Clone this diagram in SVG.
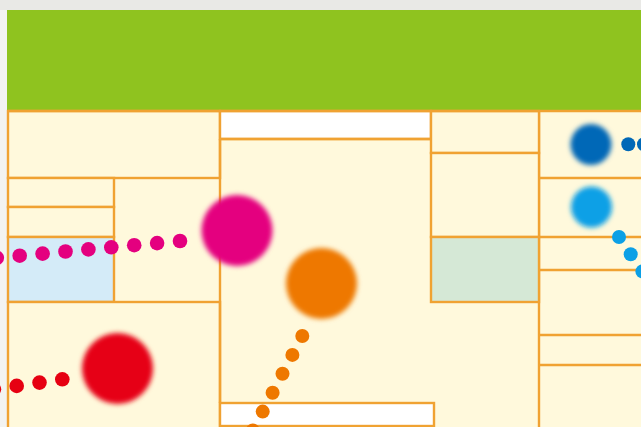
<svg xmlns="http://www.w3.org/2000/svg" width="641" height="427" viewBox="0 0 641 427">
<defs>
<filter id="blur" x="-30%" y="-30%" width="160%" height="160%"><feGaussianBlur stdDeviation="2.4"/></filter>
<style>
.room{fill:#fff9dc;stroke:#f0a232;stroke-width:2.4}
.white{fill:#ffffff;stroke:#f0a232;stroke-width:2.4}
.wall{stroke:#f0a232;stroke-width:2.4;fill:none}
.mag{fill:#e4007f}.red{fill:#e60012}.org{fill:#ee7800}.dblue{fill:#0068b7}.lblue{fill:#0ca0e6}
</style>
</defs>
<rect x="0" y="0" width="641" height="427" fill="#f3f3f1"/>
<rect x="0" y="0" width="641" height="10" fill="#e9e9e6"/>
<g id="header"><rect x="7" y="10" width="634" height="100" fill="#8fc31f"/></g>
<g id="plan">
<rect x="8" y="111" width="640" height="320" fill="#fff9dc"/>
<g id="room-topleft"><rect class="room" x="8" y="111" width="212" height="67"/></g>
<g id="room-small1"><rect class="room" x="8" y="178" width="106" height="29"/></g>
<g id="room-small2"><rect class="room" x="8" y="207" width="106" height="30"/></g>
<g id="room-blue"><rect x="8" y="237" width="106" height="65" fill="#d4ebf8" stroke="#f0a232" stroke-width="2.4"/></g>
<g id="room-bottomleft"><rect class="room" x="8" y="302" width="212" height="130"/></g>
<g id="corridor-top"><rect class="white" x="220" y="111" width="211" height="28"/></g>
<g id="room-central"><path class="wall" d="M220 139 H431 M220 139 V403 M539 111 V431"/></g>
<g id="corridor-bottom"><rect class="white" x="220" y="403" width="214" height="23"/></g>
<g id="col-top"><rect class="room" x="431" y="111" width="108" height="42"/></g>
<g id="col-mid"><rect class="room" x="431" y="153" width="108" height="84"/></g>
<g id="col-green"><rect x="431" y="237" width="108" height="65" fill="#d5e8d6" stroke="#f0a232" stroke-width="2.4"/></g>
<g id="right-rooms"><path class="wall" d="M539 178 H641 M539 237 H641 M539 270 H641 M539 335 H641 M539 365 H641 M8 111 H641"/></g>
</g>
<g id="connectors">
<g class="mag">
<circle cx="180" cy="241" r="7.3"/><circle cx="157.1" cy="243.1" r="7.3"/><circle cx="134.2" cy="245.2" r="7.3"/><circle cx="111.3" cy="247.3" r="7.3"/><circle cx="88.4" cy="249.4" r="7.3"/><circle cx="65.5" cy="251.5" r="7.3"/><circle cx="42.6" cy="253.6" r="7.3"/><circle cx="19.7" cy="255.7" r="7.3"/><circle cx="-3.2" cy="257.8" r="7.3"/>
</g>
<g class="red">
<circle cx="62.3" cy="379.3" r="7.3"/><circle cx="39.5" cy="382.6" r="7.3"/><circle cx="16.7" cy="385.9" r="7.3"/><circle cx="-6.1" cy="389.2" r="7.3"/>
</g>
<g class="org">
<circle cx="302.3" cy="336" r="7"/><circle cx="292.4" cy="354.9" r="7"/><circle cx="282.5" cy="373.8" r="7"/><circle cx="272.6" cy="392.7" r="7"/><circle cx="262.7" cy="411.6" r="7"/><circle cx="252.8" cy="430.5" r="7"/>
</g>
<g class="dblue"><circle cx="628.3" cy="144.3" r="7"/><circle cx="644" cy="144.3" r="7"/></g>
<g class="lblue"><circle cx="619" cy="237" r="7"/><circle cx="630.7" cy="254.2" r="7"/><circle cx="642.4" cy="271.4" r="7"/></g>
</g>
<g id="node-magenta"><circle class="mag" cx="237" cy="230.5" r="35.5" filter="url(#blur)"/></g>
<g id="node-orange"><circle class="org" cx="321.5" cy="283.5" r="35.5" filter="url(#blur)"/></g>
<g id="node-red"><circle class="red" cx="117.5" cy="368.5" r="35.5" filter="url(#blur)"/></g>
<g id="node-darkblue"><circle class="dblue" cx="591" cy="144.5" r="20.5" filter="url(#blur)"/></g>
<g id="node-lightblue"><circle class="lblue" cx="591.5" cy="207" r="20.5" filter="url(#blur)"/></g>
</svg>
